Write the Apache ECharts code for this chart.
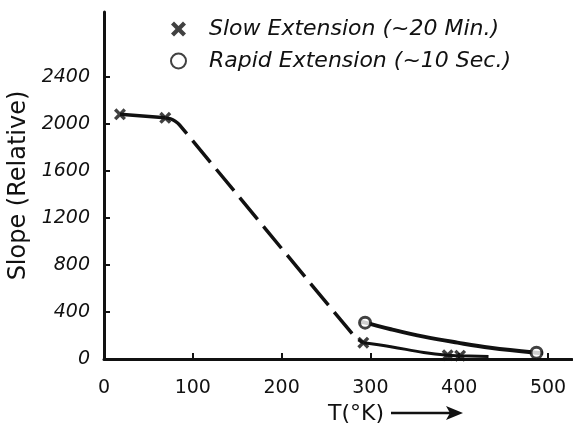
<!DOCTYPE html>
<html>
<head>
<meta charset="utf-8">
<script src="https://cdn.jsdelivr.net/npm/echarts@6/dist/echarts.min.js"></script>
<style>html,body{margin:0;padding:0;background:#fff;}#c{width:573px;height:423px;}</style>
</head>
<body>
<div id="c"></div>
<script>
// ---- data ----
const slowName = 'Slow Extension (~20 Min.)';
const rapidName = 'Rapid Extension (~10 Sec.)';
const slowPoints = [[18, 2080], [69, 2050], [292, 139], [387, 32], [401, 28]];
const rapidPoints = [[294, 309], [487, 54]];
const slowTopLine = [[18, 2080], [69, 2050]];
const slowDashedLine = [[69, 2050], [75, 2042], [80, 2022], [85, 1990], [279, 219], [286, 168], [292, 139]];
const slowLowLine = [[292, 139], [323, 105], [360, 56], [387, 32], [401, 28], [433, 22]];
const rapidLine = [[290, 315], [294, 309], [323, 253], [360, 190], [398, 139], [435, 96], [487, 54], [494, 52]];
const xTicks = [0, 100, 200, 300, 400, 500];
const yTicks = [0, 400, 800, 1200, 1600, 2000, 2400];

const FONT = 'DejaVu Sans';
const xSymbol = 'path://M0,2 L2,0 L5,3 L8,0 L10,2 L7,5 L10,8 L8,10 L5,7 L2,10 L0,8 L3,5 Z';

const chart = echarts.init(document.getElementById('c'), null, {renderer: 'canvas'});
chart.setOption({
  backgroundColor: '#fff',
  animation: false,
  grid: {left: 104, right: 1, top: 12, bottom: 64, containLabel: false, outerBoundsMode: 'none'},
  legend: {
    orient: 'vertical', left: 165, top: 13, itemGap: 10,
    itemWidth: 15, itemHeight: 15,
    data: [slowName, rapidName],
    formatter: '{t|{name}}',
    textStyle: {
      rich: {t: {fontFamily: FONT, fontStyle: 'italic', fontSize: 22, color: '#111', padding: [0, 0, 0, 18]}}
    }
  },
  xAxis: {
    type: 'value', min: 0, max: 527, interval: 100,
    name: 'T(°K)', nameLocation: 'middle', nameGap: 40,
    nameTextStyle: {fontFamily: FONT, fontSize: 22, color: '#111', padding: [0, 0, 0, 36]},
    axisLine: {lineStyle: {color: '#111', width: 3}},
    axisTick: {inside: true, length: 6, customValues: xTicks, lineStyle: {color: '#111', width: 2}},
    axisLabel: {
      fontFamily: FONT, fontSize: 19, color: '#111', margin: 20, customValues: xTicks,
      formatter: v => String(v)
    },
    splitLine: {show: false}
  },
  yAxis: {
    type: 'value', min: 0, max: 2950, interval: 400,
    name: 'Slope (Relative)', nameLocation: 'middle', nameGap: 66, nameRotate: 90,
    nameTextStyle: {fontFamily: FONT, fontSize: 24, color: '#111'},
    axisLine: {show: true, lineStyle: {color: '#111', width: 3}},
    axisTick: {show: true, inside: true, length: 6, customValues: yTicks, lineStyle: {color: '#111', width: 2}},
    axisLabel: {
      fontFamily: FONT, fontStyle: 'italic', fontSize: 19, color: '#111', margin: 14, customValues: yTicks,
      formatter: v => String(v)
    },
    splitLine: {show: false}
  },
  graphic: [
    {type: 'line', shape: {x1: 391, y1: 413, x2: 456, y2: 413}, style: {stroke: '#111', lineWidth: 2.5}, z: 100},
    {type: 'polygon', shape: {points: [[463, 413], [446, 406], [450, 413], [446, 420]]}, style: {fill: '#111'}, z: 100}
  ],
  series: [
    {type: 'line', data: slowTopLine, symbol: 'none', lineStyle: {color: '#111', width: 3.5}, silent: true},
    {type: 'line', data: slowDashedLine, symbol: 'none', smooth: 0.3,
     lineStyle: {color: '#111', width: 3.5, type: [28, 9]}, silent: true},
    {type: 'line', data: slowLowLine, symbol: 'none', smooth: 0.4, lineStyle: {color: '#111', width: 3}, silent: true},
    {type: 'line', data: rapidLine, symbol: 'none', smooth: 0.4, lineStyle: {color: '#111', width: 4}, silent: true},
    {name: slowName, type: 'scatter', data: slowPoints, symbol: xSymbol, symbolSize: 12,
     itemStyle: {color: '#111'}, z: 5},
    {name: rapidName, type: 'scatter', data: rapidPoints, symbol: 'circle', symbolSize: 11,
     itemStyle: {color: '#fff', borderColor: '#111', borderWidth: 3}, z: 5}
  ]
});
</script>
</body>
</html>
